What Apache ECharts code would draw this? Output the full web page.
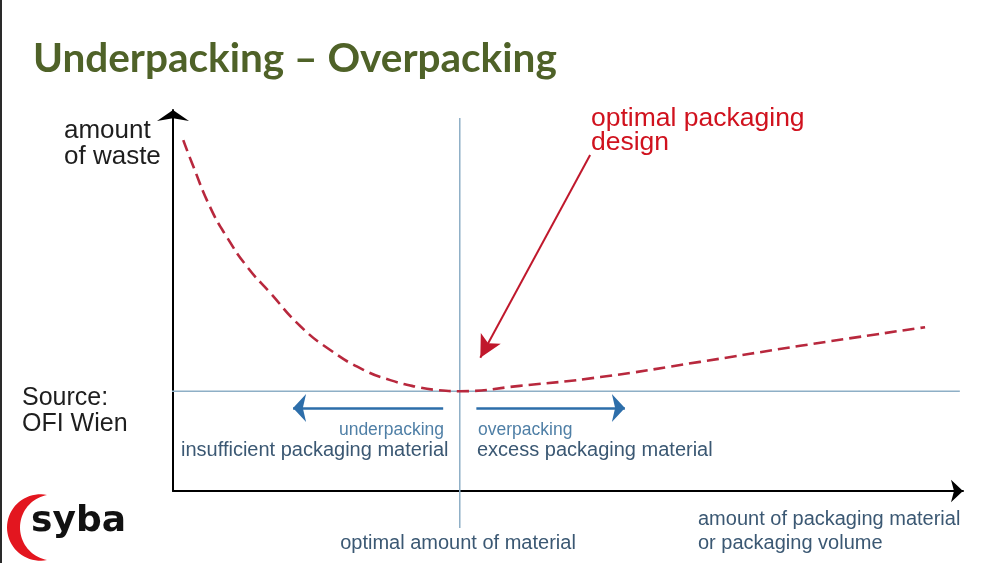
<!DOCTYPE html>
<html><head><meta charset="utf-8">
<script src="https://cdn.jsdelivr.net/npm/echarts@6/dist/echarts.min.js"></script>
<style>html,body{margin:0;padding:0;background:#fff}#c{width:1001px;height:563px}</style>
</head><body><div id="c"></div>
<script>
// ---- data (arbitrary units: x 0..100 packaging amount, y 0..100 waste) ----
const curveX = [1.3, 2.4, 4.7, 6.8, 9.4, 12.3, 16.1, 19.9, 24.1, 27.5, 30.9, 33.4, 36.3, 43.9, 54.1, 66.7, 79.4, 95.2];
const curveY = [92.1, 86.1, 74.5, 66.7, 58.8, 52.0, 43.3, 37.0, 31.8, 29.1, 27.3, 26.5, 26.2, 27.6, 29.9, 33.9, 38.1, 43.0];
const optimumX = 36.3;          // optimal amount of material
const minimumY = 26.2;          // minimum amount of waste
const minLineX = [-0.2, 99.6];  // extent of the minimum-waste reference line
const optLineY = [-9.7, 97.9];  // extent of the optimum reference line
const sideArrowY = 21.8;
const underArrowX = [34.2, 15.2]; // from -> tip
const overArrowX = [38.4, 57.2];  // from -> tip
const pointerFrom = [52.8, 88.2];
const pointerTip = [38.9, 35.0];

const title = 'Underpacking – Overpacking';
const yName = ['amount', 'of waste'];
const sourceText = ['Source:', 'OFI Wien'];
const designText = ['optimal packaging', 'design'];
const underText = ['underpacking', 'insufficient packaging material'];
const overText = ['overpacking', 'excess packaging material'];
const optimumText = 'optimal amount of material';
const xName = ['amount of packaging material', 'or packaging volume'];
const logoText = 'syba';

const curve = curveX.map((x, i) => [x, curveY[i]]);
const refBlue = '#8eafc6';
const arrowBlue = '#2d6eaa';
const darkBlue = '#3b5873';
const lightBlue = '#4f7fa6';

// logo crescent outline (decorative, not data)
function crescentPoints() {
  const pts = [];
  const top = [47, 495], bot = [47, 560];
  const oc = [40.2, 527.5], orad = 33.2;
  const ic = [53.06, 527.5], irad = 33.06;
  const a0 = Math.atan2(top[1] - oc[1], top[0] - oc[0]);
  let a1 = Math.atan2(bot[1] - oc[1], bot[0] - oc[0]);
  if (a1 > a0) a1 -= 2 * Math.PI;
  const n = 40;
  for (let i = 0; i <= n; i++) {
    const a = a0 + (a1 - a0) * i / n;
    pts.push([oc[0] + orad * Math.cos(a), oc[1] + orad * Math.sin(a)]);
  }
  const b0 = Math.atan2(bot[1] - ic[1], bot[0] - ic[0]);
  let b1 = Math.atan2(top[1] - ic[1], top[0] - ic[0]);
  if (b1 < b0) b1 += 2 * Math.PI;
  for (let i = 0; i <= n; i++) {
    const a = b0 + (b1 - b0) * i / n;
    pts.push([ic[0] + irad * Math.cos(a), ic[1] + irad * Math.sin(a)]);
  }
  return pts;
}

const chart = echarts.init(document.getElementById('c'), null, {renderer: 'canvas'});

function txt(text, x, y, font, fill, align) {
  return {type: 'text', x: x, y: y, silent: true,
    style: {text: text, font: font, fill: fill, textAlign: align || 'left', textVerticalAlign: 'middle'}};
}

const sans = '"Liberation Sans", Arial, sans-serif';

chart.setOption({
  animation: false,
  backgroundColor: '#fff',
  grid: {left: 173, right: 38, top: 110, bottom: 72, containLabel: false},
  xAxis: {type: 'value', min: 0, max: 100,
    axisLine: {show: true, onZero: false, symbol: ['none', 'arrow'], symbolSize: [17, 12], symbolOffset: [0, 0],
      lineStyle: {color: '#000', width: 2}},
    axisTick: {show: false}, axisLabel: {show: false}, splitLine: {show: false}},
  yAxis: {type: 'value', min: 0, max: 100,
    axisLine: {show: true, onZero: false, symbol: ['none', 'arrow'], symbolSize: [24, 11], symbolOffset: [0, 0],
      lineStyle: {color: '#000', width: 2}},
    axisTick: {show: false}, axisLabel: {show: false}, splitLine: {show: false}},
  series: [
    {type: 'line', name: 'min', data: [[minLineX[0], minimumY], [minLineX[1], minimumY]], showSymbol: false, clip: false,
      lineStyle: {color: refBlue, width: 1.5}, silent: true, z: 1},
    {type: 'line', name: 'opt', data: [[optimumX, optLineY[0]], [optimumX, optLineY[1]]], showSymbol: false, clip: false,
      lineStyle: {color: refBlue, width: 1.5}, silent: true, z: 1},
    {type: 'line', name: 'waste', data: curve, smooth: 0.5, showSymbol: false, clip: false,
      lineStyle: {color: '#b8283d', width: 2.6, type: [12, 6]}, silent: true, z: 3},
    {type: 'line', name: 'arrows', data: [], silent: true, z: 4,
      markLine: {silent: true, animation: false, label: {show: false}, symbol: ['none', 'arrow'],
        data: [
          [{coord: [underArrowX[0], sideArrowY], lineStyle: {color: arrowBlue, width: 2.5, type: 'solid'}},
           {coord: [underArrowX[1], sideArrowY], symbol: 'arrow', symbolSize: [21, 13]}],
          [{coord: [overArrowX[0], sideArrowY], lineStyle: {color: arrowBlue, width: 2.5, type: 'solid'}},
           {coord: [overArrowX[1], sideArrowY], symbol: 'arrow', symbolSize: [21, 13]}],
          [{coord: pointerFrom, lineStyle: {color: '#c0182c', width: 2, type: 'solid'}},
           {coord: pointerTip, symbol: 'arrow', symbolSize: [17, 22]}]
        ]}}
  ],
  graphic: [
    {type: 'rect', shape: {x: 0, y: 0, width: 2, height: 563}, style: {fill: '#2a2a2a'}, silent: true},
    txt(title, 33, 59, 'bold 40.5px Lato, "Open Sans", sans-serif', '#4f6228'),
    txt(yName[0], 64, 131, '26px ' + sans, '#1e1e1e'),
    txt(yName[1], 64, 157, '26px ' + sans, '#1e1e1e'),
    txt(sourceText[0], 22, 398, '25px ' + sans, '#1e1e1e'),
    txt(sourceText[1], 22, 424, '25px ' + sans, '#1e1e1e'),
    txt(designText[0], 591, 119, '26.5px ' + sans, '#d0121e'),
    txt(designText[1], 591, 143, '26.5px ' + sans, '#d0121e'),
    txt(underText[0], 444, 430, '17.5px ' + sans, lightBlue, 'right'),
    txt(underText[1], 181, 450, '20px ' + sans, darkBlue),
    txt(overText[0], 478, 430, '17.5px ' + sans, lightBlue),
    txt(overText[1], 477, 450, '20px ' + sans, darkBlue),
    txt(optimumText, 458, 543, '20px ' + sans, darkBlue, 'center'),
    txt(xName[0], 698, 519, '20px ' + sans, darkBlue),
    txt(xName[1], 698, 543, '20px ' + sans, darkBlue),
    {type: 'polygon', silent: true, shape: {points: crescentPoints()}, style: {fill: '#e3161f'}},
    txt(logoText, 31, 522, 'bold 36px "DejaVu Sans", sans-serif', '#111')
  ]
});
</script>
</body></html>
